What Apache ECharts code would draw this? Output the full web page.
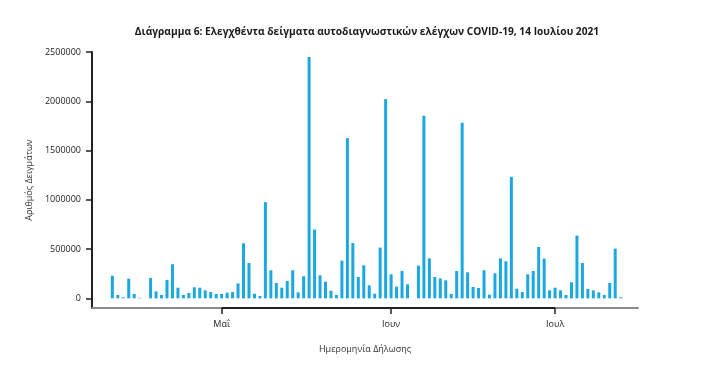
<!DOCTYPE html>
<html>
<head>
<meta charset="utf-8">
<script src="https://cdn.jsdelivr.net/npm/echarts@6/dist/echarts.min.js"></script>
<style>html,body{margin:0;padding:0;background:#fff}#c{width:701px;height:369px}</style>
</head>
<body>
<div id="c"></div>
<script>
// ---- data ----
const startDate = '2021-04-11';
const sampleCounts = [
  230000, 34000, 10000, 200000, 44000, 5000, 0, 207000, 71000, 34000,
  186000, 346000, 108000, 34000, 54000, 112000, 108000, 81000, 64000, 44000,
  44000, 58000, 64000, 152000, 559000, 359000, 47000, 24000, 976000, 285000,
  156000, 108000, 176000, 285000, 61000, 224000, 2449000, 698000, 234000, 169000,
  78000, 34000, 383000, 1626000, 562000, 217000, 335000, 132000, 47000, 515000,
  2022000, 244000, 119000, 278000, 142000, 0, 332000, 1853000, 406000, 217000,
  203000, 183000, 44000, 278000, 1782000, 264000, 115000, 105000, 285000, 37000,
  254000, 406000, 376000, 1233000, 98000, 64000, 244000, 278000, 522000, 403000,
  81000, 108000, 81000, 34000, 163000, 637000, 359000, 95000, 81000, 61000,
  34000, 156000, 505000, 10000
];
const monthTickDates = ['2021-05-01', '2021-06-01', '2021-07-01'];
const monthTickLabels = ['Μαΐ', 'Ιουν', 'Ιουλ'];
const yTickValues = [0, 500000, 1000000, 1500000, 2000000, 2500000];
const titleText = 'Διάγραμμα 6: Ελεγχθέντα δείγματα αυτοδιαγνωστικών ελέγχων COVID-19, 14 Ιουλίου 2021';
const xAxisTitle = 'Ημερομηνία Δήλωσης';
const yAxisTitle = 'Αριθμός Δειγμάτων';

// ---- helpers ----
const DAY = 86400000;
function ts(s) { const p = s.split('-').map(Number); return Date.UTC(p[0], p[1] - 1, p[2]); }
const t0 = ts(startDate);
function dayIndex(s) { return Math.round((ts(s) - t0) / DAY); }
const seriesData = sampleCounts.map((v, i) => [i, v]);
const tickDays = monthTickDates.map(dayIndex);
const lastDay = sampleCounts.length - 1;
const xMin = -3.72;
const xMax = lastDay + 3.17;
const yMax = 2500000;
const yMin = -0.04 * Math.max(...sampleCounts);

const FONT = "'Open Sans', 'Noto Sans', sans-serif";

const chart = echarts.init(document.getElementById('c'), null, { renderer: 'canvas' });
chart.setOption({
  animation: false,
  backgroundColor: '#ffffff',
  title: {
    text: titleText,
    left: 362,
    top: 22,
    textAlign: 'center',
    textStyle: { fontFamily: FONT, fontWeight: 'bold', fontSize: 10.2, color: '#1a1a1a' }
  },
  grid: { left: 92, right: 63, top: 52, bottom: 61, containLabel: false },
  xAxis: {
    type: 'value',
    min: xMin,
    max: xMax,
    name: xAxisTitle,
    nameLocation: 'middle',
    nameGap: 37,
    nameTextStyle: { fontFamily: FONT, fontSize: 9, color: '#333' },
    axisLine: { show: true, onZero: false, lineStyle: { color: '#8a8a8a', width: 2 } },
    axisTick: { show: true, customValues: tickDays, length: 6, lineStyle: { color: '#222', width: 1.5 } },
    axisLabel: {
      customValues: tickDays,
      margin: 12,
      fontFamily: FONT, fontSize: 9, color: '#222',
      formatter: function (v) {
        const i = tickDays.indexOf(Math.round(v));
        return i >= 0 ? monthTickLabels[i] : '';
      }
    },
    splitLine: { show: false }
  },
  yAxis: {
    type: 'value',
    min: yMin,
    max: yMax,
    name: yAxisTitle,
    nameLocation: 'middle',
    nameGap: 55,
    nameTextStyle: { fontFamily: FONT, fontSize: 9, color: '#333' },
    axisLine: { show: true, onZero: false, lineStyle: { color: '#222', width: 2 } },
    axisTick: { show: true, customValues: yTickValues, length: 6, lineStyle: { color: '#222', width: 1.5 } },
    axisLabel: {
      customValues: yTickValues, margin: 11, fontFamily: FONT, fontSize: 9, color: '#222',
      formatter: function (v) { return String(Math.round(v)); }
    },
    splitLine: { show: false }
  },
  series: [{
    type: 'bar',
    data: seriesData,
    barWidth: 3,
    itemStyle: { color: '#1ba8e0' },
    markLine: {
      silent: true,
      symbol: 'none',
      label: { show: false },
      animation: false,
      lineStyle: { color: '#222', width: 2, type: 'solid' },
      data: [[{ coord: [tickDays[0], yMin] }, { coord: [tickDays[tickDays.length - 1], yMin] }]]
    }
  }]
});
</script>
</body>
</html>
